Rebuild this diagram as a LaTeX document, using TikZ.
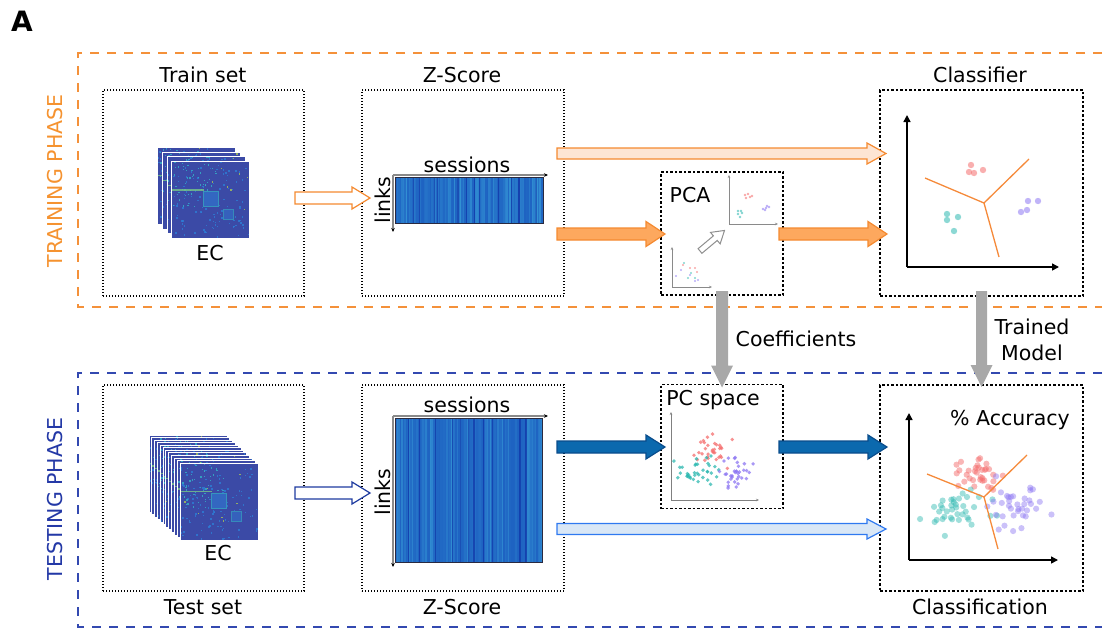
\documentclass[tikz,border=0pt]{standalone}
\usepackage{fontspec}
\setmainfont{DejaVu Sans}
\usetikzlibrary{calc,arrows.meta}
\definecolor{phaseor}{HTML}{F4913A}
\definecolor{phaseortxt}{HTML}{F5922F}
\definecolor{phasebl}{HTML}{3349B0}
\definecolor{phasebltxt}{HTML}{2338A6}
\definecolor{arrorfill}{HTML}{FDA85E}
\definecolor{arrordraw}{HTML}{F58A30}
\definecolor{arrorlight}{HTML}{FDE5D4}
\definecolor{arrblfill}{HTML}{0B69AE}
\definecolor{arrbldraw}{HTML}{0A4D8C}
\definecolor{arrbllight}{HTML}{D9E7F6}
\definecolor{arrbllightdraw}{HTML}{2F79F0}
\definecolor{arrbltest}{HTML}{1E3BA0}
\definecolor{arrgray}{HTML}{A8A8A8}
\definecolor{dpink}{HTML}{F46E6E}
\definecolor{dteal}{HTML}{2DB8B0}
\definecolor{dpurple}{HTML}{8C76F2}
\definecolor{bndor}{HTML}{F58A3A}
\definecolor{ecblue}{HTML}{3B4AA6}
\definecolor{ecspkA}{HTML}{2D7ED6}
\definecolor{ecspkB}{HTML}{33B5C8}
\definecolor{ecspkC}{HTML}{B9D84A}
\definecolor{hmdark}{HTML}{1C5EC0}
\definecolor{hmlight}{HTML}{3AA2DA}
\definecolor{hmframe}{HTML}{2A2A40}
\definecolor{axgray}{HTML}{8A8A8A}
\newcommand\myfs{\fontsize{20.5}{25}\selectfont}
% horizontal block arrow: style, start, tip, shaft half, head half, head length
\newcommand\harrow[6]{\draw[#1] let \p1=#2, \p2=#3 in
  (\x1,\y1+#4) -- (\x2-#6,\y1+#4) -- (\x2-#6,\y1+#5) -- (\x2,\y1) --
  (\x2-#6,\y1-#5) -- (\x2-#6,\y1-#4) -- (\x1,\y1-#4) -- cycle;}
% vertical (downward) block arrow
\newcommand\varrow[6]{\fill[#1] let \p1=#2, \p2=#3 in
  (\x1+#4,\y1) -- (\x1+#4,\y2+#6) -- (\x1+#5,\y2+#6) -- (\x1,\y2) --
  (\x1-#5,\y2+#6) -- (\x1-#4,\y2+#6) -- (\x1-#4,\y1) -- cycle;}
% one EC matrix layer, top-left corner
\newcommand\ecmat[2]{%
\begin{scope}[shift={(#1,#2)}]
\fill[ecblue] (0,0) rectangle (78,77);
\foreach \k in {1,...,110}{\pgfmathsetmacro\u{76.5*rnd}\pgfmathsetmacro\v{75.5*rnd}%
  \fill[ecspkA, fill opacity=0.8] (\u,\v) rectangle ++(1.5,1.5);}
\foreach \k in {1,...,55}{\pgfmathsetmacro\u{44*rnd}\pgfmathsetmacro\v{44*rnd}%
  \fill[ecspkB, fill opacity=0.8] (\u,\v) rectangle ++(1.3,1.3);}
\foreach \k in {1,...,8}{\pgfmathsetmacro\u{76*rnd}\pgfmathsetmacro\v{75*rnd}%
  \fill[ecspkC, fill opacity=0.7] (\u,\v) rectangle ++(1.3,1.3);}
\fill[ecspkA!55!ecblue] (31,30) rectangle (46,45);
\draw[ecspkB!70!ecblue, line width=0.6] (31,30) rectangle (46,45);
\fill[ecspkA!45!ecblue] (51,48) rectangle (61,58);
\draw[ecspkB!60!ecblue, line width=0.5] (51,48) rectangle (61,58);
\fill[ecspkB!50!ecspkC, fill opacity=0.8] (0,27.8) rectangle (32,29.1);
\draw[white, line width=0.9] (0,0) rectangle (78,77);
\end{scope}}
% heatmap with vertical stripes
\newcommand\heatmap[4]{%
\fill[hmdark] (#1,#2) rectangle (#3,#4);
\begin{scope}
\clip (#1,#2) rectangle (#3,#4);
\foreach \k in {0,...,98}{\pgfmathsetmacro\a{int(8+80*rnd*rnd)}%
  \fill[hmlight!\a!hmdark] (#1+\k*1.5,#2) rectangle ++(1.5,#4-#2);}
\foreach \k in {1,...,12}{\pgfmathsetmacro\u{#1+146*rnd}%
  \fill[blue!55!black, fill opacity=0.35] (\u,#2) rectangle ++(1.2,#4-#2);}
\end{scope}
\draw[hmframe, line width=0.9] (#1,#2) rectangle (#3,#4);}
\begin{document}
\begin{tikzpicture}[x=1pt,y=-1pt,
  every node/.style={inner sep=0pt, outer sep=0pt, font=\myfs},
  dotbox/.style={draw=black, line width=1.1pt, dash pattern=on 1pt off 2pt},
  dashbox/.style={draw=black, line width=1.1pt, dash pattern=on 2.5pt off 2pt},
  phaseorline/.style={draw=phaseor, line width=1.8pt, dash pattern=on 9pt off 8pt},
  phaseblline/.style={draw=phasebl, line width=1.8pt, dash pattern=on 9pt off 8pt},
  arrOpenOr/.style={draw=arrordraw, fill=white, line width=1.2pt},
  arrLightOr/.style={draw=arrordraw, fill=arrorlight, line width=1.2pt},
  arrFullOr/.style={draw=arrordraw, fill=arrorfill, line width=1.2pt},
  arrOpenBl/.style={draw=arrbltest, fill=white, line width=1.2pt},
  arrFullBl/.style={draw=arrbldraw, fill=arrblfill, line width=1.2pt},
  arrLightBl/.style={draw=arrbllightdraw, fill=arrbllight, line width=1.2pt},
  arrGray/.style={fill=arrgray},
  plotaxis/.style={draw=black, line width=1.5pt, -{Triangle[length=7pt,width=7pt]}},
  smallaxis/.style={draw=axgray, line width=0.9pt, -{Stealth[length=3pt,width=2.5pt]}},
  hmaxis/.style={draw=axgray, line width=1.5pt, -{Stealth[length=4pt,width=3.5pt,color=black]}},
  bnd/.style={draw=bndor, line width=1.3pt},
  pdot/.style={fill=dpink, fill opacity=0.6},
  tdot/.style={fill=dteal, fill opacity=0.6},
  vdot/.style={fill=dpurple, fill opacity=0.6}]
\useasboundingbox (0,0) rectangle (1104,630);
\pgfmathsetseed{7}

% panel letter
\node[font=\fontsize{28}{30}\selectfont\bfseries] (lblA) at (22,21) {A};

% phase frames
\draw[phaseorline] (1102,53) -- (78,53) -- (78,307) -- (1102,307);
\draw[phaseblline] (1102,373) -- (78,373) -- (78,627) -- (1102,627);
\node[rotate=90, text=phaseortxt, font=\fontsize{20.5}{24}\selectfont] (trainph) at (55,181) {TRAINING PHASE};
\node[rotate=90, text=phasebltxt, font=\fontsize{20.5}{24}\selectfont] (testph) at (55,499) {TESTING PHASE};

% boxes
\node[dotbox, minimum width=201pt, minimum height=206pt] (trainbox) at (203.5,193) {};
\node[dotbox, minimum width=202pt, minimum height=206pt] (ztrainbox) at (463,193) {};
\node[dashbox, minimum width=122pt, minimum height=123pt] (pcabox) at (722,233.5) {};
\node[dashbox, minimum width=203pt, minimum height=206pt] (clfbox) at (981.5,193) {};
\node[dotbox, minimum width=201pt, minimum height=206pt] (testbox) at (203.5,488) {};
\node[dotbox, minimum width=202pt, minimum height=206pt] (ztestbox) at (463,488) {};
\node[dashbox, minimum width=122pt, minimum height=124pt] (pcbox) at (722,446.5) {};
\node[dashbox, minimum width=203pt, minimum height=206pt] (clsbox) at (981.5,488) {};

% titles
\node (ttrain) at (203,75) {Train set};
\node (tztrain) at (462,75) {Z-Score};
\node (tclf) at (980,75) {Classifier};
\node (ttest) at (203,607) {Test set};
\node (tztest) at (462,607) {Z-Score};
\node (tcls) at (980,607) {Classification};

% EC stacks
\foreach \j in {0,...,3}{\ecmat{157.7+4.7*\j}{147.3+4.75*\j}}
\node (ectrain) at (210,253) {EC};
\foreach \j in {0,...,11}{\ecmat{149+2.82*\j}{435+2.55*\j}}
\node (ectest) at (218,553) {EC};

% Z-score heatmaps
\heatmap{395}{177}{543}{223}
\draw[hmaxis] (393,175) -- (548,175);
\draw[hmaxis] (393,175) -- (393,232);
\node (sess1) at (467,165) {sessions};
\node[rotate=90] (links1) at (383,200) {links};

\heatmap{395}{418}{542}{562}
\draw[hmaxis] (393,416) -- (548,416);
\draw[hmaxis] (393,416) -- (393,567);
\node (sess2) at (467,405) {sessions};
\node[rotate=90] (links2) at (383,492) {links};

% PCA box content
\node (pcalbl) at (690,195) {PCA};
\draw[smallaxis] (729,224) -- (729,175);
\draw[smallaxis] (729,224) -- (778,224);
\foreach \p in {(745,195),(748,194),(750,197),(746,198),(752,196)} \fill[pdot] \p circle[radius=1.3pt];
\foreach \p in {(738,211),(741,211),(738,214),(740,217),(742,213)} \fill[tdot] \p circle[radius=1.3pt];
\foreach \p in {(763,209),(766,208),(769,207),(767,206),(765,210)} \fill[vdot] \p circle[radius=1.3pt];
\draw[smallaxis] (672,287) -- (672,247);
\draw[smallaxis] (672,287) -- (712,287);
\foreach \p in {(683,265),(690,268),(695,268),(697,272)} \fill[pdot] \p circle[radius=1.1pt];
\foreach \p in {(684,263),(688,278),(695,278),(691,273)} \fill[tdot] \p circle[radius=1.1pt];
\foreach \p in {(676,276),(681,270),(690,275),(695,281),(698,280)} \fill[vdot] \p circle[radius=1.1pt];
\begin{scope}[shift={(700,251)}, rotate=40]
\draw[draw=arrgray!85!black, fill=white, line width=1pt] (0,3) -- (20,3) -- (20,7.5) -- (32,0) -- (20,-7.5) -- (20,-3) -- (0,-3) -- cycle;
\end{scope}

% Classifier content
\draw[plotaxis] (907,267) -- (907,115);
\draw[plotaxis] (907,267) -- (1059,267);
\coordinate (cc1) at (984,203);
\draw[bnd] (cc1) -- (925,178);
\draw[bnd] (cc1) -- (1029,159);
\draw[bnd] (cc1) -- (999,257);
\foreach \p in {(971,165),(969,172),(974,173),(983,170)} \fill[pdot, fill opacity=0.55] \p circle[radius=3.2pt];
\foreach \p in {(947,214),(947,220),(958,217),(954,231)} \fill[tdot, fill opacity=0.55] \p circle[radius=3.2pt];
\foreach \p in {(1028,201),(1038,201),(1021,212),(1027,210)} \fill[vdot, fill opacity=0.55] \p circle[radius=3.2pt];

% PC space content
\node (pclbl) at (713,400) {PC space};
\draw[smallaxis, draw=gray] (671,500) -- (671,412);
\draw[smallaxis, draw=gray] (671,500) -- (759,500);
\foreach \i in {1,...,32}{\pgfmathsetmacro\dx{(rnd+rnd+rnd-1.5)*2*8.5}\pgfmathsetmacro\dy{(rnd+rnd+rnd-1.5)*2*8}%
  \fill[pdot, fill opacity=0.75] (712+\dx,451+\dy) circle[radius=1.9pt];}
\foreach \i in {1,...,36}{\pgfmathsetmacro\dx{(rnd+rnd+rnd-1.5)*2*10}\pgfmathsetmacro\dy{(rnd+rnd+rnd-1.5)*2*6}%
  \fill[tdot, fill opacity=0.75] (697+\dx,471+\dy) circle[radius=1.9pt];}
\foreach \i in {1,...,34}{\pgfmathsetmacro\dx{(rnd+rnd+rnd-1.5)*2*9}\pgfmathsetmacro\dy{(rnd+rnd+rnd-1.5)*2*8}%
  \fill[vdot, fill opacity=0.75] (733+\dx,471+\dy) circle[radius=1.9pt];}

% Classification content
\node (acc) at (1010,420) {\% Accuracy};
\draw[plotaxis] (909,560) -- (909,413);
\draw[plotaxis] (909,560) -- (1058,560);
\foreach \i in {1,...,34}{\pgfmathsetmacro\dx{(rnd+rnd+rnd-1.5)*2*13}\pgfmathsetmacro\dy{(rnd+rnd+rnd-1.5)*2*12}%
  \fill[pdot, fill opacity=0.5] (975+\dx,479+\dy) circle[radius=3.1pt];}
\foreach \i in {1,...,38}{\pgfmathsetmacro\dx{(rnd+rnd+rnd-1.5)*2*18}\pgfmathsetmacro\dy{(rnd+rnd+rnd-1.5)*2*10}%
  \fill[tdot, fill opacity=0.45] (960+\dx,512+\dy) circle[radius=3.1pt];}
\foreach \i in {1,...,36}{\pgfmathsetmacro\dx{(rnd+rnd+rnd-1.5)*2*14}\pgfmathsetmacro\dy{(rnd+rnd+rnd-1.5)*2*12}%
  \fill[vdot, fill opacity=0.45] (1012+\dx,506+\dy) circle[radius=3.1pt];}
\coordinate (cc2) at (984,497);
\draw[bnd] (cc2) -- (927,474);
\draw[bnd] (cc2) -- (1027,455);
\draw[bnd] (cc2) -- (998,549);

% connectors (block arrows)
\harrow{arrOpenOr}{($(trainbox.east)+(-9,5)$)}{($(ztrainbox.west)+(8,5)$)}{6pt}{11pt}{18pt}
\harrow{arrLightOr}{($(ztrainbox.east)+(-7,-39.5)$)}{($(clfbox.west)+(6,-39.5)$)}{5.5pt}{10.5pt}{19pt}
\harrow{arrFullOr}{($(ztrainbox.east)+(-7,41)$)}{($(pcabox.west)+(4,0.5)$)}{6pt}{12.5pt}{19pt}
\harrow{arrFullOr}{($(pcabox.east)+(-4,0.5)$)}{($(clfbox.west)+(7,41)$)}{6pt}{12.5pt}{19pt}
\harrow{arrOpenBl}{($(testbox.east)+(-9,5)$)}{($(ztestbox.west)+(8,5)$)}{6pt}{11pt}{18pt}
\harrow{arrFullBl}{($(ztestbox.east)+(-7,-41)$)}{($(pcbox.west)+(4,0.5)$)}{6pt}{12pt}{19pt}
\harrow{arrFullBl}{($(pcbox.east)+(-4,0.5)$)}{($(clsbox.west)+(7,-41)$)}{6pt}{12pt}{19pt}
\harrow{arrLightBl}{($(ztestbox.east)+(-7,41)$)}{($(clsbox.west)+(6,41)$)}{5.5pt}{10pt}{19pt}
\varrow{arrGray}{($(pcabox.south)+(0,-4)$)}{($(pcbox.north)+(0,3)$)}{6pt}{11pt}{22pt}
\varrow{arrGray}{($(clfbox.south)+(0,-5)$)}{($(clsbox.north)+(0,2)$)}{5.5pt}{11pt}{22pt}
\node (coef) at (796,339) {Coefficients};
\node[align=center, font=\fontsize{20.5}{26}\selectfont] (trmod) at (1032,340) {Trained\\Model};
\end{tikzpicture}
\end{document}
